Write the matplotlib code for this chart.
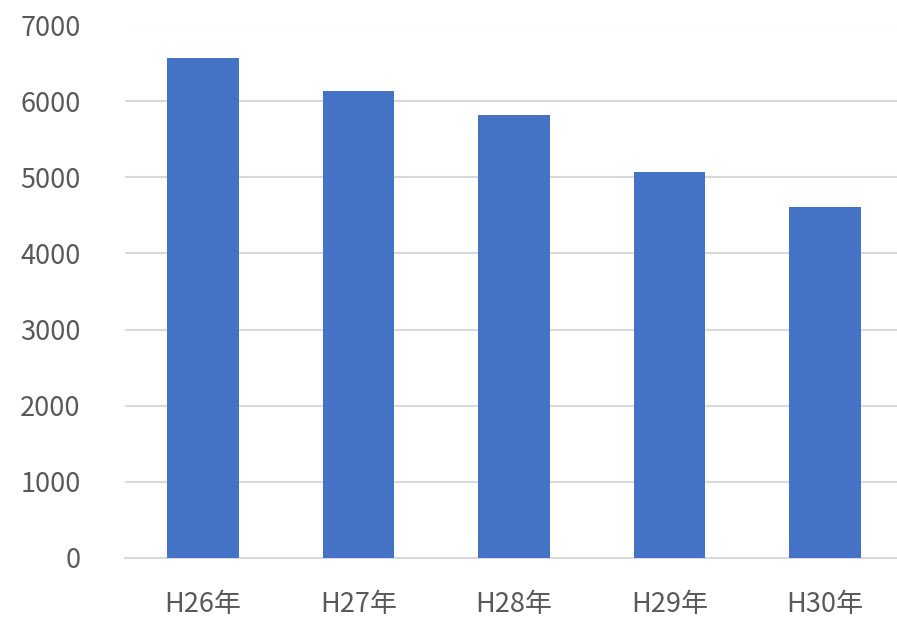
import matplotlib.pyplot as plt

plt.rcParams['font.family'] = ['Noto Sans CJK JP', 'DejaVu Sans']

# データ
years = ['H26年', 'H27年', 'H28年', 'H29年', 'H30年']
counts = [6570, 6140, 5825, 5075, 4615]
yticks = [0, 1000, 2000, 3000, 4000, 5000, 6000, 7000]

fig = plt.figure(figsize=(8.97, 6.19), dpi=100)
ax = fig.add_axes([125 / 897, (619 - 557.5) / 619, 778 / 897, 532 / 619])

ax.bar(range(len(years)), counts, width=0.46, color='#4472C4', zorder=3)

ax.set_xlim(-0.5, len(years) - 0.5)
ax.set_ylim(0, 7000)
ax.set_yticks(yticks)
ax.set_yticklabels([str(t) for t in yticks])
ax.set_xticks(range(len(years)))
ax.set_xticklabels(years)

ax.yaxis.grid(True, color='#d9d9d9', linewidth=1.5, zorder=0)
for s in ['top', 'right', 'left']:
    ax.spines[s].set_visible(False)
ax.spines['bottom'].set_color('#d9d9d9')
ax.spines['bottom'].set_linewidth(1.5)
ax.tick_params(axis='both', length=0, labelsize=19.5, labelcolor='#595959')
ax.tick_params(axis='y', pad=32)
ax.tick_params(axis='x', pad=24)

fig.savefig('out.png', dpi=100)
